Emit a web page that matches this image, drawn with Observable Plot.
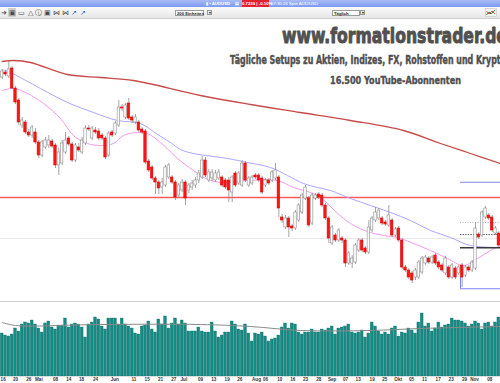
<!DOCTYPE html>
<html><head><meta charset="utf-8">
<script src="https://cdn.jsdelivr.net/npm/d3@7"></script>
<script src="https://cdn.jsdelivr.net/npm/@observablehq/plot@0.6"></script>
<style>
html,body{margin:0;padding:0;background:#fff;width:500px;height:383px;overflow:hidden;font-family:"Liberation Sans",Arial,sans-serif;}
#wrap{position:relative;width:500px;height:383px;overflow:hidden;background:#fff;}
#topbar{position:absolute;left:0;top:0;width:500px;height:7px;background:linear-gradient(#aabcf6,#7b98ef);}
#topbar span{position:absolute;top:0;height:7px;line-height:7px;font-size:4.3px;color:#fff;white-space:nowrap;font-weight:bold;}
#toolbar{position:absolute;left:0;top:7px;width:500px;height:12px;background:linear-gradient(#fbfbfb,#e6e6e6);border-bottom:1px solid #cfcfcf;box-sizing:border-box;}
#toolbar .ic{position:absolute;top:1px;height:9px;line-height:9px;font-size:7px;color:#4a4a4a;text-align:center;width:8px;}
.dd{position:absolute;top:2.5px;height:6px;line-height:6px;background:#fff;border:0.6px solid #9a9a9a;font-size:4.2px;font-weight:bold;color:#222;padding-left:1px;box-sizing:border-box;white-space:nowrap;}
.arr{position:absolute;top:3px;width:5px;height:5px;background:#e8e8e8;border:0.6px solid #9a9a9a;box-sizing:border-box;font-size:3.5px;line-height:4px;text-align:center;color:#222;}
#price{position:absolute;left:0;top:19px;}
#volume{position:absolute;left:0;top:300px;}
#wm{position:absolute;left:0;top:0;pointer-events:none;}
#wm text{font-family:"Liberation Sans Narrow","DejaVu Sans Condensed","Liberation Sans",sans-serif;font-weight:bold;fill:#505050;stroke:#505050;stroke-linejoin:round;}
</style></head>
<body>
<div id="wrap">
  <div id="topbar">
    <span style="left:206px;">&#9646; &#8226; AUDUSD</span>
    <span style="left:235px;">&#9636;</span>
    <span style="left:242px;width:27px;background:#e3232b;text-align:center;">0.7239 | -0.10%</span>
    <span style="left:271px;font-weight:normal;">07:30:24 Spot AUD/USD</span>
  </div>
  <div id="toolbar">
    <div class="ic" style="left:0px;">&#10140;</div>
    <div class="ic" style="left:8px;background:#cdcdcd;border-radius:1px;">&#9635;</div>
    <div class="ic" style="left:17px;">&#9645;</div>
    <div class="ic" style="left:26px;">&#9651;</div>
    <div class="ic" style="left:34px;">&#9432;</div>
    <div class="ic" style="left:43px;">&#9635;</div>
    <div class="ic" style="left:52px;">&#8904;</div>
    <div class="ic" style="left:61px;">&#8904;</div>
    <div class="ic" style="left:70px;color:#3366cc;">&#8599;</div>
    <div class="ic" style="left:79px;color:#3366cc;">&#8599;</div>
    <div class="dd" style="left:175px;width:29px;">200 Einheiten</div>
    <div class="arr" style="left:207px;">&#9662;</div>
    <div class="dd" style="left:332px;width:28px;">Täglich</div>
    <div class="arr" style="left:360px;">&#9662;</div>
    <svg style="position:absolute;left:485px;top:1px;" width="13" height="9">
      <rect x="0.5" y="0.5" width="11" height="8" fill="#f4f4f4" stroke="#bbb" stroke-width="0.5"/>
      <polyline points="1.5,7 4,4 6,6 10,2" fill="none" stroke="#2a9a2a" stroke-width="1"/>
      <polyline points="1.5,3 4,6 7,3 10,6" fill="none" stroke="#d22" stroke-width="0.8"/>
    </svg>
  </div>
  <div id="price"></div>
  <div id="volume"></div>
  <svg id="wm" width="500" height="100">
    <text x="282" y="43" font-size="22" stroke-width="0.9" textLength="225" lengthAdjust="spacingAndGlyphs">www.formationstrader.de</text>
    <text x="230" y="64" font-size="12.5" stroke-width="0.45" textLength="276" lengthAdjust="spacingAndGlyphs">Tägliche Setups zu Aktien, Indizes, FX, Rohstoffen und Krypto</text>
    <text x="330" y="84" font-size="11" stroke-width="0.4" textLength="131" lengthAdjust="spacingAndGlyphs">16.500 YouTube-Abonnenten</text>
  </svg>
</div>
<script>
// ---- Daily AUD/USD candles (prices in pips: value / 10000) ----
const open = [7742,7762,7746,7778,7698,7650,7550,7562,7522,7510,7522,7482,7430,7462,7470,7486,7470,7390,7398,7442,
7498,7474,7410,7462,7442,7478,7538,7498,7530,7526,7510,7498,7430,7522,7518,7550,7622,7582,7638,7582,
7562,7562,7534,7526,7406,7382,7338,7322,7302,7310,7342,7342,7322,7270,7290,7322,7290,7302,7310,7330,
7342,7410,7330,7338,7330,7338,7342,7330,7330,7282,7358,7318,7310,7398,7310,7318,7350,7350,7338,7310,
7330,7330,7338,7342,7182,7142,7178,7146,7138,7170,7202,7258,7258,7158,7258,7274,7270,7230,7178,7078,
7110,7090,7098,7090,6998,6998,7002,7050,7090,7058,7042,7130,7170,7178,7178,7162,7150,7170,7110,7138,
7090,6982,6970,6958,6942,6942,6962,6998,7018,7002,7030,7002,6990,6958,6982,6942,6978,6958,6990,6950,
6982,6970,6978,7114,7110,7182,7190,7182,7118,7118];
const high = [7774,7770,7806,7786,7706,7658,7582,7570,7534,7550,7538,7490,7490,7502,7510,7494,7478,7458,7490,7522,
7506,7482,7478,7478,7502,7550,7550,7546,7542,7538,7518,7506,7526,7530,7566,7650,7634,7638,7658,7590,
7594,7570,7542,7534,7414,7390,7346,7330,7338,7390,7398,7350,7330,7318,7334,7330,7318,7330,7342,7370,
7426,7422,7374,7374,7370,7374,7350,7338,7342,7350,7366,7366,7410,7406,7346,7350,7358,7358,7346,7338,
7338,7370,7398,7350,7194,7190,7186,7154,7210,7238,7278,7310,7266,7278,7278,7282,7278,7238,7186,7150,
7118,7138,7106,7098,7046,7030,7078,7098,7098,7066,7170,7186,7222,7218,7186,7170,7230,7178,7142,7146,
7098,6990,6978,6966,6978,7010,7026,7030,7026,7030,7038,7010,6998,7026,6990,6998,6986,6990,6998,6990,
6990,7010,7162,7122,7210,7226,7198,7190,7146,7126];
const low = [7734,7746,7738,7694,7634,7550,7538,7514,7502,7498,7474,7418,7422,7454,7458,7458,7378,7350,7390,7434,
7466,7402,7402,7442,7434,7470,7526,7490,7514,7490,7490,7414,7422,7502,7510,7542,7606,7574,7570,7558,
7554,7522,7514,7394,7362,7330,7274,7274,7274,7302,7334,7314,7250,7258,7282,7230,7278,7290,7298,7318,
7334,7342,7322,7326,7322,7330,7302,7294,7242,7242,7302,7310,7302,7322,7302,7310,7334,7322,7274,7302,
7310,7322,7330,7182,7158,7134,7102,7126,7130,7162,7194,7250,7142,7150,7250,7254,7222,7170,7078,7070,
7082,7082,7078,6982,6990,6978,6994,7042,7042,7034,7034,7122,7162,7170,7150,7146,7142,7102,7102,7082,
6974,6962,6934,6918,6930,6934,6954,6990,6994,6994,6990,6974,6962,6950,6934,6934,6934,6950,6902,6942,
6962,6962,6970,7094,7102,7174,7170,7122,7110,7062];
const close = [7766,7754,7774,7698,7642,7562,7570,7522,7510,7542,7482,7430,7482,7490,7490,7466,7390,7442,7478,7490,
7474,7410,7470,7450,7490,7538,7534,7538,7522,7498,7498,7422,7518,7510,7558,7622,7618,7630,7578,7570,
7582,7530,7522,7402,7370,7338,7322,7298,7322,7382,7390,7322,7262,7310,7322,7258,7310,7318,7330,7358,
7410,7350,7362,7362,7358,7362,7310,7302,7290,7342,7310,7358,7398,7330,7338,7342,7342,7330,7282,7330,
7318,7362,7370,7218,7170,7178,7142,7138,7202,7230,7270,7302,7150,7270,7270,7262,7230,7178,7098,7142,
7090,7130,7090,6998,7038,7018,7070,7090,7050,7042,7142,7178,7202,7210,7158,7154,7190,7110,7134,7090,
6982,6970,6942,6930,6970,7002,7018,7022,7002,7022,6998,6982,6970,7018,6942,6990,6942,6982,6942,6982,
6970,7002,7138,7102,7202,7218,7178,7130,7138,7070];
// volume (thousands of ticks)
const volume = [86,82,80,84,96,90,104,108,106,112,104,96,88,106,110,98,94,102,102,116,
98,104,106,104,98,78,104,108,118,114,100,94,116,116,116,104,116,104,100,96,
86,84,100,102,110,94,88,114,104,120,96,106,116,104,112,106,90,90,90,98,
90,88,88,108,90,78,82,88,88,110,104,94,92,104,86,
70,86,84,88,80,70,74,76,82,98,106,96,106,104,88,84,88,88,94,88,
88,94,92,96,100,84,96,98,100,104,88,86,88,92,78,86,108,100,90,84,
88,84,96,100,80,88,86,96,92,86,108,126,100,106,90,96,108,98,102,104,
116,112,112,110,106,100,104,110,106,94,106,108,100,108,118];
// moving averages (candle index, value in pips)
const ma200Idx = [0,3.4,8.5,19.6,29.5,39.4,59.5,74.5,89.5,104.5,120.4,131.5,140.5,149.5];
const ma200Val = [7806,7810,7802,7754,7742,7730,7670,7634,7602,7570,7530,7478,7438,7398];
const ma50Idx = [0,2.5,11.5,19.6,27.4,34.6,41.5,46.6,50.5,53.5,57.4,67.6,73.6,80.5,85.6,90.4,94.6,98.5,104.5,110.5,116.5,122.5,128.5,134.5,140.5,149.5];
const ma50Val = [7774,7762,7698,7642,7602,7570,7558,7514,7482,7454,7438,7418,7402,7382,7350,7318,7302,7290,7258,7230,7202,7170,7130,7102,7070,7062];
const ma20Idx = [0,3.4,7.6,12.4,17.5,21.4,25.6,29.5,33.4,36.4,40.6,43.6,47.5,52.6,57.4,62.5,67.6,73.6,82.6,87.4,92.5,95.5,98.5,102.4,106.6,110.5,114.4,118.6,123.4,128.5,133.6,138.4,142.6,146.5,149.5];
const ma20Val = [7690,7698,7678,7638,7578,7510,7478,7470,7478,7510,7522,7518,7482,7418,7370,7330,7322,7330,7330,7302,7282,7262,7226,7178,7142,7122,7110,7102,7078,7050,7018,6990,7018,7050,7070];
const volMaIdx = [0,4,29.5,59.5,74.5,89.5,110.5,125.5,149.5];
const volMaVal = [108,102,104,104,100,92,92,96,100];
// horizontal levels (pips)
const supportLevel = [7262];
const faintLevel = [7098];
const zoneStart = [137.5];
const blueLevels = [7323, 6897];
const blueLegTop = [6942];
const blackLevel = [7061];
const dottedDark = [7114];
const dottedLight = [7162];
// x-axis ticks (candle index) and labels
const tickIdx = [0.3,4,8,11,16,20,23.8,28,33.8,39.5,43.5,47.5,51.5,54.5,59.5,63.5,67.5,71.3,76.3,79,83.3,87.2,91,95,99,103,106.8,111,114.8,118.8,122.8,126.7,130.8,134.7,138.7,141.7,146.3];
const tickLabels = ["16","20","26","Mai","08","14","18","24","Jun","11","15","21","27","Jul","09","13","19","26","Aug","06","10","16","23","28","Sep","07","13","19","25","Okt","05","11","17","23","29","Nov","08"];

const P = v => v / 10000;
const candles = open.map((o, i) => ({i, o: P(o), h: P(high[i]), l: P(low[i]), c: P(close[i]), up: close[i] >= o}));
const toLine = (ix, vals, f = P) => ix.map((x, k) => ({x, v: f(vals[k])}));
const xDom = [-0.5, open.length - 0.5];
const xEnd = open.length - 0.5;

const price = Plot.plot({
  width: 500, height: 281, margin: 0,
  style: {background: "transparent", overflow: "visible"},
  x: {domain: xDom, axis: null, label: null},
  y: {domain: [0.6850, 0.7974], axis: null, label: null},
  marks: [
    Plot.ruleY(faintLevel.map(P), {stroke: "#e9e9e9", strokeWidth: 1}),
    Plot.ruleY(supportLevel.map(P), {stroke: "#ff5a5a", strokeWidth: 1.4}),
    Plot.line(toLine(ma200Idx, ma200Val), {x: "x", y: "v", stroke: "#c94a4a", strokeWidth: 1.3, curve: "catmull-rom"}),
    Plot.line(toLine(ma50Idx, ma50Val), {x: "x", y: "v", stroke: "#a9a6ff", strokeWidth: 1, curve: "catmull-rom"}),
    Plot.line(toLine(ma20Idx, ma20Val), {x: "x", y: "v", stroke: "#f19aee", strokeWidth: 1, curve: "catmull-rom"}),
    Plot.ruleY(blueLevels.map(P), {x1: zoneStart[0], x2: xEnd, stroke: "#8080ff", strokeWidth: 1}),
    Plot.ruleX(zoneStart, {y1: P(blueLevels[1]), y2: P(blueLegTop[0]), stroke: "#8080ff", strokeWidth: 1}),
    Plot.ruleY(dottedLight.map(P), {x1: zoneStart[0], x2: xEnd, stroke: "#9a9a9a", strokeWidth: 0.8, strokeDasharray: "1,1.5"}),
    Plot.ruleY(dottedDark.map(P), {x1: zoneStart[0], x2: xEnd, stroke: "#3c3c3c", strokeWidth: 0.9, strokeDasharray: "1.3,1.3"}),
    Plot.ruleY(blackLevel.map(P), {x1: zoneStart[0], x2: xEnd, stroke: "#3a3a3a", strokeWidth: 1.3}),
    Plot.ruleX(candles, {x: "i", y1: "l", y2: "h", stroke: "#8d8d8d", strokeWidth: 0.8}),
    Plot.rect(candles, {
      x1: d => d.i - 0.36, x2: d => d.i + 0.36,
      y1: d => Math.max(d.o, d.c), y2: d => Math.min(d.o, d.c),
      fill: d => d.up ? "#ffffff" : "#ff1414",
      stroke: d => d.up ? "#8d8d8d" : "#e00000",
      strokeWidth: 0.6
    })
  ]
});
document.getElementById("price").append(price);

const labelMap = new Map(tickIdx.map((t, k) => [t, tickLabels[k]]));
const vol = Plot.plot({
  width: 500, height: 83, marginTop: 0, marginBottom: 7, marginLeft: 0, marginRight: 0,
  style: {background: "transparent", overflow: "visible", fontFamily: "Liberation Sans, Arial, sans-serif"},
  x: {domain: xDom, label: null},
  y: {domain: [0, 152], axis: null, label: null},
  marks: [
    Plot.ruleY([150], {stroke: "#d2d2d2", strokeWidth: 1}),
    Plot.rectY(volume, {x1: (d, i) => i - 0.42, x2: (d, i) => i + 0.42, y: d => d, fill: "#178a84", stroke: "#0f706b", strokeWidth: 0.35}),
    Plot.line(toLine(volMaIdx, volMaVal, v => v), {x: "x", y: "v", stroke: "#8a8a8a", strokeWidth: 1, curve: "catmull-rom"}),
    Plot.ruleY([0], {stroke: "#dcdcdc", strokeWidth: 0.8}),
    Plot.axisX(tickIdx, {label: null, tickSize: 0, tickPadding: 1.5, tickFormat: d => labelMap.get(d), fontSize: 4.6, fontWeight: "bold", fill: "#333", stroke: null})
  ]
});
document.getElementById("volume").append(vol);
</script>
</body></html>
